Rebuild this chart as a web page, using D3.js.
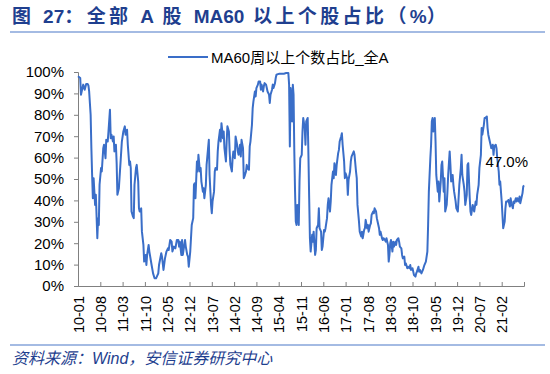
<!DOCTYPE html>
<html>
<head>
<meta charset="utf-8">
<script src="https://cdn.jsdelivr.net/npm/d3@7"></script>
<style>
  body { margin: 0; background: #fff; }
  text { font-family: Arial, "Liberation Sans", sans-serif; }
</style>
</head>
<body>
<svg width="550" height="374"></svg>
<script>
// x tick labels (one every 30 weeks)
const tickLabels = ["10-01", "10-08", "11-03", "11-10", "12-05", "12-12", "13-07", "14-02", "14-09", "15-04",
    "15-11", "16-06", "17-01", "17-08", "18-03", "18-10", "19-05", "19-12", "20-07", "21-02"];

// weeks since 2010-01 and share of stocks above MA60 (%)
const weeks = [0, 3, 4, 7, 9, 11, 13, 14, 15, 17, 18, 19, 20, 21, 22, 23, 24, 26, 27, 28, 29, 31, 32, 34, 35, 37, 38, 40, 41, 43,
    44, 45, 47, 48, 49, 51, 52, 53, 55, 57, 59, 61, 63, 64, 66, 67, 69, 70, 71, 72, 74, 75, 76, 78, 79, 81, 82, 83, 85, 86,
    88, 89, 91, 92, 93, 95, 96, 99, 101, 103, 105, 108, 109, 112, 113, 115, 117, 119, 121, 122, 124, 126, 127, 129, 131, 133,
    135, 136, 137, 139, 140, 141, 143, 144, 145, 147, 148, 149, 151, 152, 153, 155, 156, 157, 158, 160, 161, 162, 164, 165,
    166, 168, 169, 170, 172, 173, 175, 176, 177, 179, 180, 181, 183, 184, 185, 187, 188, 189, 191, 192, 193, 195, 196, 197,
    199, 200, 201, 203, 204, 205, 207, 208, 209, 211, 212, 214, 215, 216, 218, 219, 220, 222, 223, 224, 226, 227, 228, 230,
    231, 232, 234, 235, 236, 238, 239, 240, 242, 243, 245, 246, 247, 249, 250, 251, 253, 254, 255, 257, 258, 259, 261, 262,
    263, 265, 266, 267, 269, 271, 274, 277, 280, 283, 284, 285, 286, 288, 289, 290, 291, 292, 293, 294, 295, 297, 298, 299,
    301, 302, 303, 305, 306, 307, 309, 310, 311, 312, 313, 315, 316, 317, 319, 320, 321, 323, 324, 325, 327, 328, 329, 331,
    332, 333, 335, 336, 337, 339, 340, 341, 343, 344, 345, 347, 348, 350, 351, 352, 354, 355, 356, 358, 359, 360, 362, 363,
    364, 366, 367, 368, 370, 371, 372, 374, 375, 376, 378, 379, 381, 382, 383, 385, 386, 387, 389, 390, 391, 393, 394, 395,
    397, 398, 399, 401, 402, 403, 405, 406, 407, 409, 410, 411, 413, 414, 415, 417, 418, 419, 420, 421, 423, 424, 425, 427,
    428, 429, 431, 432, 433, 435, 436, 437, 439, 440, 441, 443, 444, 446, 447, 448, 450, 451, 452, 454, 455, 456, 458, 459,
    460, 462, 463, 464, 466, 467, 468, 470, 471, 472, 474, 475, 476, 477, 478, 480, 481, 482, 484, 485, 486, 488, 489, 490,
    492, 493, 494, 496, 497, 498, 500, 501, 502, 504, 505, 506, 508, 509, 511, 512, 513, 515, 516, 517, 519, 520, 521, 523,
    524, 525, 527, 528, 529, 531, 532, 533, 535, 536, 537, 539, 540, 542, 543, 544, 546, 547, 548, 550, 551, 552, 554, 555,
    556, 558, 559, 560, 562, 563, 564, 566, 567, 568, 570, 572, 574, 575, 576, 578, 579, 581, 582, 583, 585, 586, 587, 589,
    590, 591, 593, 594, 595, 597, 598, 599, 600];
const pct = [98.0, 97.2, 89.4, 94.1, 91.7, 94.4, 94.4, 93.7, 90.9, 80.0, 64.4, 51.9, 41.0, 50.4, 44.1, 37.9, 42.6, 22.3, 31.7, 28.5,
    47.3, 55.1, 53.5, 64.4, 66.0, 59.7, 68.3, 67.5, 72.2, 82.4, 69.1, 70.7, 67.5, 69.9, 62.9, 66.0, 57.4, 42.6, 45.7, 56.6,
    67.5, 72.2, 74.6, 70.7, 73.0, 66.0, 56.6, 58.2, 55.1, 34.8, 32.4, 31.7, 47.3, 55.1, 56.6, 48.8, 36.3, 34.8, 36.3, 25.4,
    19.2, 11.4, 14.5, 9.8, 14.5, 19.2, 16.1, 9.8, 5.9, 3.6, 3.6, 5.9, 9.8, 15.3, 13.7, 7.5, 12.9, 16.1, 17.6, 16.8,
    21.5, 20.7, 16.1, 18.4, 17.6, 21.5,
    21.5, 18.4, 20.7, 14.5, 21.5, 14.5, 19.2, 21.5, 18.4, 14.5, 13.7, 9.0, 16.1, 22.3, 28.5, 31.7, 47.3, 48.0, 41.0, 58.2,
    53.5, 61.3, 53.5, 55.1, 48.8, 44.1, 45.7, 41.0, 47.3, 56.6, 64.4, 68.3, 51.9, 37.9, 34.0, 39.5, 44.1, 53.5, 55.1, 54.3,
    62.9, 67.5, 73.0, 67.5, 76.1, 69.1, 72.2, 64.4, 58.2, 67.5, 74.6, 72.2, 62.9, 56.6, 53.5, 59.7, 62.9, 59.7, 69.9, 66.0,
    62.9, 61.3, 66.0, 60.5, 68.3, 64.4, 50.4, 51.2, 53.5, 56.6, 55.1, 54.3, 65.2, 67.5, 75.3, 83.1, 86.3, 90.9, 88.6, 92.5,
    94.1, 95.6, 95.6, 91.7, 94.1, 90.9, 93.3, 94.8, 94.1, 92.5, 90.9, 89.4, 85.5, 89.4, 91.7, 94.1, 92.5, 94.8, 97.2, 98.7,
    99.0, 99.2, 99.2, 99.2,
    99.5, 99.5, 94.1, 65.2, 92.5, 76.9, 94.1, 89.4, 62.9, 44.1, 30.1, 28.5, 37.9, 28.5, 48.8, 59.7, 61.3, 72.2, 78.5, 73.8,
    66.0, 76.9, 78.5, 61.3, 41.0, 22.3, 16.1, 23.9, 20.7, 25.4, 14.5, 16.8, 27.0, 28.5, 36.3, 27.0, 25.4, 16.8, 18.4, 26.2,
    25.4, 27.0, 31.7, 37.9, 41.0, 34.8, 39.5, 47.3, 53.5, 50.4, 57.4, 51.9, 56.6, 62.1, 63.6, 67.5, 69.9, 71.4, 66.0, 58.2,
    50.4, 52.7, 50.4, 42.6, 49.6, 53.5, 58.2, 60.5, 62.1, 62.9, 61.3, 53.5, 50.4, 37.9, 30.1, 25.4, 23.1, 25.4, 22.3, 26.2,
    27.0, 30.9, 27.0, 28.5, 25.4, 28.5, 29.3, 33.2, 34.8, 34.0, 36.3, 34.8, 31.7, 30.1, 27.0, 23.9, 25.4, 22.3, 21.5, 22.3,
    21.5, 20.7, 22.3, 19.2, 11.4, 14.5,
    20.0, 21.5, 16.1, 20.7, 18.4, 20.7, 19.2, 21.5, 22.3, 20.7, 18.4, 17.6, 14.5, 12.9, 13.7, 9.8, 10.6, 8.3, 9.0, 8.3,
    9.8, 7.5, 8.3, 6.7, 5.1, 4.4, 5.9, 6.7, 9.0, 6.7, 7.5, 5.9, 6.7, 7.5, 9.8, 10.6, 11.4, 16.1, 28.5, 44.1,
    59.7, 66.0, 76.9, 78.5, 72.2, 78.5, 67.5, 51.9, 44.1, 48.8, 39.5, 48.8, 56.6, 58.2, 44.1, 50.4, 34.8, 37.9, 44.1, 51.9,
    62.9, 56.6, 48.8, 51.9, 47.3, 44.1, 39.5, 36.3, 34.8, 41.0, 47.3, 55.1, 61.3, 51.9, 47.3, 44.1, 37.9, 42.6, 56.6, 57.4,
    41.0, 34.8, 33.2, 37.9, 36.3, 34.8, 39.5, 37.9, 42.6, 47.3, 55.1, 61.3, 73.8, 70.7, 75.3, 78.5, 78.5, 79.2, 73.8, 70.7,
    67.5, 66.0, 64.4, 66.0, 61.3, 65.2, 66.0, 64.4, 59.7, 53.5, 47.3,
    48.8, 39.5, 27.0, 30.1, 36.3, 39.5, 39.5, 40.2, 37.1, 41.0, 38.7, 36.3, 39.5, 38.7, 41.0, 39.5, 41.0, 39.5, 41.8, 38.7,
    41.8, 43.4, 46.5, 47.0];

const seriesName = "MA60周以上个数占比_全A";
const lastLabel = "47.0%";
// title pieces: [text, is CJK]
const titleParts = [["图 ", true], ["27", false], ["：全部 ", true], ["A", false], [" 股 ", true],
    ["MA60", false], [" 以上个股占比（", true], ["%", false], ["）", true]];

const svg = d3.select("svg");
const navy = "#1f3f8f";
const lineColor = "#3a6ec8";

var x = d3.scaleLinear().domain([0, 600]).range([78, 524]);
var y = d3.scaleLinear().domain([0, 100]).range([286, 72]);

// title
var title = svg.append("text")
    .attr("x", 12).attr("y", 23)
    .attr("fill", navy)
    .style("font-size", "19px")
    .style("font-weight", "bold")
    .style("font-family", "Arial, 'Noto Sans CJK SC', sans-serif");
title.selectAll("tspan")
    .data(titleParts)
    .enter()
    .append("tspan")
    .style("letter-spacing", d => d[1] ? "3.4px" : "0px")
    .text(d => d[0]);

svg.append("line")
    .attr("x1", 10).attr("x2", 545)
    .attr("y1", 32).attr("y2", 32)
    .attr("stroke", "#4a78c8").attr("stroke-width", 1.2);

// legend
svg.append("line")
    .attr("x1", 168).attr("x2", 208)
    .attr("y1", 57).attr("y2", 57)
    .attr("stroke", lineColor).attr("stroke-width", 2);
svg.append("text")
    .attr("x", 211).attr("y", 62.5)
    .style("font-size", "15px")
    .style("font-family", "Arial, 'Noto Sans CJK SC', sans-serif")
    .attr("fill", "#000")
    .text(seriesName);

// y axis
var yAxis = svg.append("g")
    .attr("transform", "translate(78,0)")
    .call(d3.axisLeft(y)
        .tickValues(d3.range(0, 101, 10))
        .tickSize(4)
        .tickPadding(10)
        .tickFormat(d => d + "%"));
yAxis.selectAll("text").style("font-size", "15px").attr("fill", "#000");
yAxis.selectAll("line, path").attr("stroke", "#808080");

// x axis
var xAxis = svg.append("g")
    .attr("transform", "translate(0,286)")
    .call(d3.axisBottom(x)
        .tickValues(tickLabels.map((d, i) => i * 30))
        .tickSize(-4)
        .tickFormat((d, i) => tickLabels[i]));
xAxis.selectAll("line, path").attr("stroke", "#808080");
xAxis.selectAll("text")
    .style("font-size", "14.5px")
    .attr("fill", "#000")
    .attr("text-anchor", "end")
    .attr("transform", "rotate(-90)")
    .attr("x", -10)
    .attr("y", 0)
    .attr("dy", "0.36em");

// series line
var line = d3.line()
    .x((d, i) => x(weeks[i]))
    .y(d => y(d));

svg.append("path")
    .datum(pct)
    .attr("fill", "none")
    .attr("stroke", lineColor)
    .attr("stroke-width", 2)
    .attr("stroke-linejoin", "round")
    .attr("d", line);

// last value label
svg.append("text")
    .attr("x", x(weeks[weeks.length - 1]) + 4)
    .attr("y", y(pct[pct.length - 1]) - 18)
    .attr("text-anchor", "end")
    .style("font-size", "15px")
    .text(lastLabel);

// footer
svg.append("line")
    .attr("x1", 10).attr("x2", 545)
    .attr("y1", 345).attr("y2", 345)
    .attr("stroke", "#4a78c8").attr("stroke-width", 1.2);
svg.append("text")
    .attr("x", 12).attr("y", 364)
    .attr("fill", navy)
    .style("font-size", "16px")
    .style("font-style", "italic")
    .style("font-family", "Arial, 'Noto Sans CJK SC', sans-serif")
    .text("资料来源：Wind，安信证券研究中心");
</script>
</body>
</html>
